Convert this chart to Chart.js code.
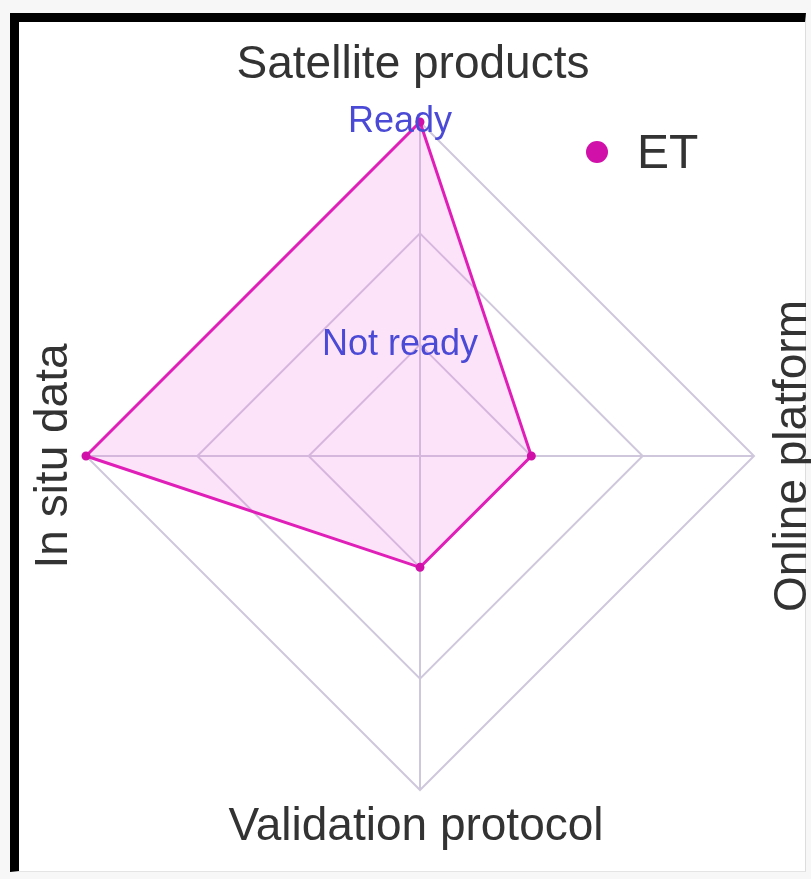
<!DOCTYPE html>
<html>
<head>
<meta charset="utf-8">
<title>ET readiness radar</title>
<script src="https://cdn.jsdelivr.net/npm/chart.js@4.4.1/dist/chart.umd.min.js"></script>
<style>
  html, body { margin: 0; padding: 0; background: #f7f7f7; }
  #frame {
    position: absolute; left: 10px; top: 13px; width: 796px; height: 859px;
    background: #fff;
    border-left: 9px solid #000; border-top: 9px solid #000;
    border-right: 1px solid #ddd; border-bottom: 1px solid #e4e4e4;
    box-sizing: border-box;
  }
  #radar { position: absolute; left: 0; top: 0; }
</style>
</head>
<body>
<div id="frame"></div>
<canvas id="radar" width="811" height="879"></canvas>
<script>
// categories (clockwise from the top)
const categorias = ['Satellite products', 'Online platform', 'Validation protocol', 'In situ data'];
// readiness level of the ET product per category
const valoresET = [3, 1, 1, 3];
// tick labels for levels 0..3
const rotulosNivel = ['', 'Not ready', '', 'Ready'];

const fonte = "'Liberation Sans', Arial, sans-serif";

// draws the axis titles (left/right ones rotated) since Chart.js can't rotate point labels
const titulosEixos = {
  id: 'titulosEixos',
  afterDraw(chart, args, opts) {
    const scale = chart.scales.r;
    const ctx = chart.ctx;
    const r = scale.drawingArea;
    ctx.save();
    ctx.fillStyle = '#333';
    ctx.font = '46px ' + fonte;
    ctx.textAlign = 'center';
    ctx.textBaseline = 'alphabetic';
    chart.data.labels.forEach((label, i) => {
      const p = scale.getPointPosition(i, r + opts.offsets[i]);
      ctx.save();
      ctx.translate(p.x + opts.dx[i], p.y);
      if (i === 1 || i === 3) ctx.rotate(-Math.PI / 2);
      ctx.fillText(label, 0, 0);
      ctx.restore();
    });
    ctx.restore();
  }
};

// small legend in the upper right
const legendaET = {
  id: 'legendaET',
  afterDraw(chart, args, opts) {
    const ctx = chart.ctx;
    const ds = chart.data.datasets[0];
    ctx.save();
    ctx.fillStyle = ds.pointBackgroundColor;
    ctx.beginPath();
    ctx.arc(opts.x, opts.y, 11, 0, Math.PI * 2);
    ctx.fill();
    ctx.fillStyle = '#333';
    ctx.font = '48px ' + fonte;
    ctx.textBaseline = 'middle';
    ctx.fillText(ds.label, opts.x + 40, opts.y + 3);
    ctx.restore();
  }
};

const ctx = document.getElementById('radar').getContext('2d');
new Chart(ctx, {
  type: 'radar',
  data: {
    labels: categorias,
    datasets: [{
      label: 'ET',
      data: valoresET,
      borderColor: '#e01fb8',
      backgroundColor: 'rgba(245, 100, 225, 0.18)',
      borderWidth: 3,
      fill: true,
      pointBackgroundColor: '#d010a8',
      pointBorderColor: '#d010a8',
      pointRadius: 3,
      pointHoverRadius: 3
    }]
  },
  options: {
    responsive: false,
    animation: false,
    layout: { padding: { left: 66, top: 102, right: 37, bottom: 69 } },
    plugins: {
      legend: { display: false },
      tooltip: { enabled: false },
      titulosEixos: { offsets: [44, 52, 50, 19], dx: [-7, 0, -4, 0] },
      legendaET: { x: 597, y: 152 }
    },
    scales: {
      r: {
        min: 0,
        max: 3,
        beginAtZero: true,
        grid: { circular: false, color: '#cfc8dc', lineWidth: 2 },
        angleLines: { color: '#cfc8dc', lineWidth: 2 },
        pointLabels: { display: false },
        ticks: {
          stepSize: 1,
          z: 1,
          showLabelBackdrop: false,
          color: '#4a4ad6',
          font: { family: fonte, size: 36 },
          // trailing spaces push the label a little left of the axis, like the original
          callback: (v) => rotulosNivel[v] ? rotulosNivel[v] + '    ' : ''
        }
      }
    }
  },
  plugins: [titulosEixos, legendaET]
});
</script>
</body>
</html>
